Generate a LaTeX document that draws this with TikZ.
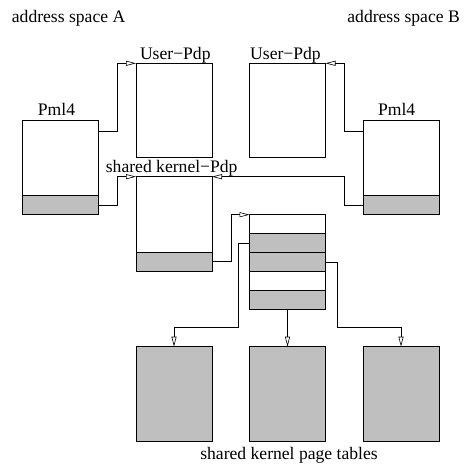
\documentclass[tikz,border=0pt]{standalone}
\usepackage{fontspec}
\setmainfont{Liberation Serif}
\usetikzlibrary{arrows.meta}
\begin{document}
\begin{tikzpicture}[x=1bp, y=-1bp,
  tbl/.style={draw, line width=0.9bp, minimum width=76bp, minimum height=94.4bp,
    anchor=north west, inner sep=0pt, outer sep=0pt},
  ent/.style={draw, line width=0.9bp, fill=gray!50, minimum width=76bp,
    minimum height=18.9bp, anchor=north west, inner sep=0pt, outer sep=0pt},
  full/.style={tbl, fill=gray!50},
  link/.style={line width=0.6bp, -{Triangle[open, length=10bp, width=5bp]}},
  lbl/.style={font=\fontsize{17.6bp}{20bp}\selectfont, inner sep=0pt, anchor=base}]
\useasboundingbox (0,0) rectangle (468,466);

% address space A
\node[tbl] (pmlA) at (22.7,120) {};
\node[ent, anchor=south west] (pmlAk) at (pmlA.south west) {};
\node[tbl] (updA) at (136,63.3) {};

% shared kernel page directory
\node[tbl] (kpdp) at (136,176.7) {};
\node[ent, anchor=south west] (kpdpk) at (kpdp.south west) {};

% address space B
\node[tbl] (updB) at (249.5,63.3) {};
\node[tbl] (pmlB) at (363,120) {};
\node[ent, anchor=south west] (pmlBk) at (pmlB.south west) {};

% kernel page directory entries
\node[ent, fill=white] (r1) at (249.5,214.7) {};
\node[ent] (r2) at (r1.south west) {};
\node[ent] (r3) at (r2.south west) {};
\node[ent, fill=white] (r4) at (r3.south west) {};
\node[ent] (r5) at (r4.south west) {};

% shared kernel page tables
\node[full] (pt1) at (136,346.7) {};
\node[full] (pt2) at (249.5,346.7) {};
\node[full] (pt3) at (363,346.7) {};

% labels
\node[lbl, anchor=base west] (asA) at (11.7,22.5) {address space A};
\node[lbl, anchor=base east] (asB) at (460,22.5) {address space B};
\node[lbl] (lPmlA) at (56.5,116) {Pml4};
\node[lbl] (lPmlB) at (396.7,116) {Pml4};
\node[lbl] (lUpdA) at (175.3,60) {User−Pdp};
\node[lbl] (lUpdB) at (285.5,60) {User−Pdp};
\node[lbl] (lKpdp) at (171.7,172.5) {shared kernel−Pdp};
\node[lbl] (lPt) at (289,459) {shared kernel page tables};

% links
\draw[link] ([yshift=-11bp]pmlA.north east) -- ++(18.6,0) |- (updA.north west);
\draw[link] (pmlAk.east) -- ++(18.6,0) |- (kpdp.north west);
\draw[link] ([yshift=-11bp]pmlB.north west) -- ++(-18.7,0) |- (updB.north east);
\draw[link] (pmlBk.west) -- ++(-18.7,0) |- (kpdp.north east);
\draw[link] (kpdpk.east) -- ++(19,0) |- (r1.north west);
\draw[link] (r2.west) -- ++(-11.5,0) |- ([yshift=19bp]pt1.north) -- (pt1.north);
\draw[link] (r5.south) -- (pt2.north);
\draw[link] (r3.east) -- ++(11.4,0) |- ([yshift=19bp]pt3.north) -- (pt3.north);
\end{tikzpicture}
\end{document}
